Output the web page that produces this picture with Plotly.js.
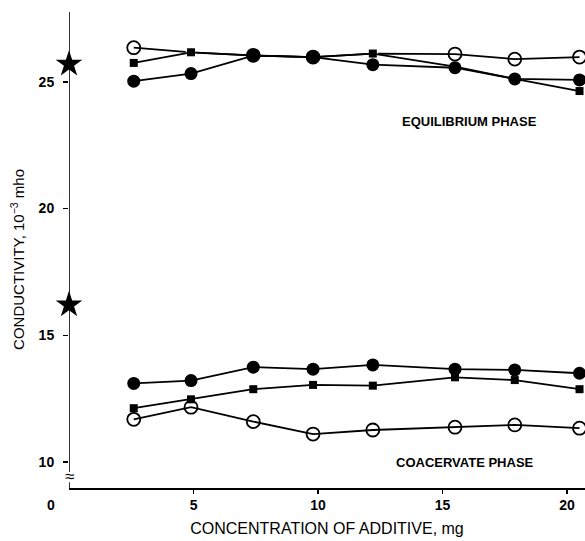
<!DOCTYPE html>
<html>
<head>
<meta charset="utf-8">
<script src="https://cdn.plot.ly/plotly-3.0.1.min.js"></script>
<style>html,body{margin:0;padding:0;background:#fff;}#chart{width:585px;height:541px;}</style>
</head>
<body>
<div id="chart"></div>
<script>
// Additive concentration (mg)
const concentration = [2.6, 4.9, 7.4, 9.8, 12.2, 15.5, 17.9, 20.5];

// Equilibrium phase conductivity (10^-3 mho)
const eqOpen   = [26.35, 26.17, 26.05, 25.98, 26.12, 26.10, 25.90, 25.98];
const eqSquare = [25.75, 26.17, 26.04, 25.98, 26.12, 25.60, 25.12, 24.64];
const eqFilled = [25.03, 25.33, 26.04, 25.98, 25.68, 25.56, 25.12, 25.08];

// Coacervate phase conductivity (10^-3 mho)
const coOpen   = [11.68, 12.16, 11.59, 11.10, 11.26, 11.37, 11.46, 11.33];
const coSquare = [12.12, 12.47, 12.87, 13.04, 13.01, 13.34, 13.23, 12.87];
const coFilled = [13.10, 13.21, 13.74, 13.66, 13.83, 13.66, 13.63, 13.50];

// Reference values (stars) at zero additive
const starX = [0, 0];
const starY = [25.7, 16.2];

const xTicks = [5, 10, 15, 20];
const yTicks = [10, 15, 20, 25];

// where open-circle points coincide with a filled square, they print as a small filled dot
const eqOpenSymbol = ['circle-open', 'circle', 'circle-open', 'circle-open', 'circle', 'circle-open', 'circle-open', 'circle-open'];
const eqOpenSize = [13, 9, 13, 13, 9, 13, 13, 13];

const lineStyle = {color: '#000', width: 1.8};
const openMarker = {symbol: 'circle-open', size: 13, color: '#000', opacity: 1, line: {width: 1.8}};
const filledMarker = {symbol: 'circle', size: 13, color: '#000', opacity: 1};
const squareMarker = {symbol: 'square', size: 8, color: '#000', opacity: 1};

function tr(y, marker) {
  return {x: concentration, y: y, mode: 'lines+markers', line: lineStyle, marker: marker, showlegend: false, hoverinfo: 'skip'};
}

const data = [
  tr(eqOpen, {symbol: eqOpenSymbol, size: eqOpenSize, color: '#000', opacity: 1, line: {width: 1.8}}),
  tr(eqSquare, squareMarker),
  tr(eqFilled, filledMarker),
  tr(coOpen, openMarker),
  tr(coSquare, squareMarker),
  tr(coFilled, filledMarker),
  {x: starX, y: starY, mode: 'markers', marker: {symbol: 'star', size: 20, color: '#000', opacity: 1}, cliponaxis: false, showlegend: false, hoverinfo: 'skip'}
];

const fontFam = 'Liberation Sans, Arial, sans-serif';

const layout = {
  width: 585, height: 541,
  margin: {l: 69, r: 0, t: 12, b: 53},
  paper_bgcolor: '#fff', plot_bgcolor: '#fff',
  font: {family: fontFam, color: '#000'},
  xaxis: {
    range: [0, 20.72],
    tickvals: xTicks, ticktext: xTicks.map(String),
    ticks: 'outside', ticklen: 4, tickwidth: 1.3, tickcolor: '#000',
    showline: true, linecolor: '#000', linewidth: 1.6,
    showgrid: false, zeroline: false,
    tickfont: {size: 14, family: fontFam, weight: 'bold'},
    title: {text: 'CONCENTRATION OF ADDITIVE, mg', font: {size: 16, family: fontFam}, standoff: 10}
  },
  yaxis: {
    range: [8.97, 27.76],
    tickvals: yTicks, ticktext: yTicks.map(String),
    ticks: 'outside', ticklen: 5, tickwidth: 1.3, tickcolor: '#000',
    showline: false, showgrid: false, zeroline: false,
    ticklabelstandoff: 6,
    tickfont: {size: 14, family: fontFam, weight: 'bold'}
  },
  shapes: [
    {type: 'line', xref: 'x', yref: 'y', x0: 0, x1: 0, y0: 9.6, y1: 27.76, line: {color: '#000', width: 1.6}},
    {type: 'line', xref: 'x', yref: 'y', x0: 0, x1: 0, y0: 8.97, y1: 9.2, line: {color: '#000', width: 1.6}}
  ],
  annotations: [
    {text: 'CONDUCTIVITY, 10<sup>−3</sup> mho', textangle: -90, x: -0.1, y: 0.48, xref: 'paper', yref: 'paper', showarrow: false, font: {size: 15, family: fontFam}, xanchor: 'center', yanchor: 'middle'},
    {text: '≈', x: 0, y: 9.42, xref: 'x', yref: 'y', showarrow: false, font: {size: 17, family: fontFam}, xanchor: 'center', yanchor: 'middle'},
    {text: '0', x: -0.035, y: -0.036, xref: 'paper', yref: 'paper', showarrow: false, font: {size: 14, family: fontFam, weight: 'bold'}, xanchor: 'center', yanchor: 'middle'},
    {text: 'EQUILIBRIUM PHASE', x: 16.1, y: 23.45, xref: 'x', yref: 'y', showarrow: false, font: {size: 13, family: fontFam, weight: 'bold'}, xanchor: 'center', yanchor: 'middle'},
    {text: 'COACERVATE PHASE', x: 15.9, y: 9.97, xref: 'x', yref: 'y', showarrow: false, font: {size: 13, family: fontFam, weight: 'bold'}, xanchor: 'center', yanchor: 'middle'}
  ]
};

Plotly.newPlot('chart', data, layout, {displayModeBar: false, staticPlot: true});
</script>
</body>
</html>
